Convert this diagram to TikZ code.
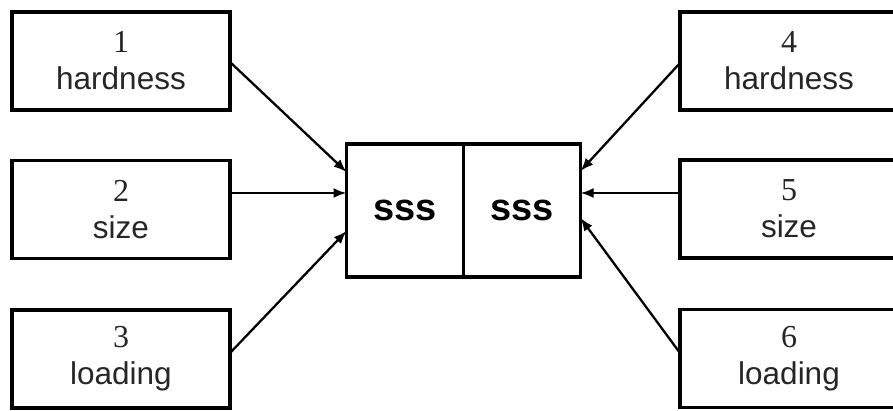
\documentclass[tikz,border=0pt]{standalone}
\usepackage{fontspec}
\setmainfont{Liberation Serif}
\newfontfamily\arialfont{Liberation Sans}
\usetikzlibrary{arrows.meta}

\tikzset{
  factor/.style={draw, line width=3.6pt, minimum width=218pt, minimum height=98pt,
    inner sep=0pt, outer sep=0pt, align=center, text=black!85,
    font=\fontsize{32}{37}\selectfont},
  half/.style={draw, line width=3.4pt, minimum width=117pt, minimum height=133pt,
    inner sep=0pt, outer sep=0pt, font=\arialfont\bfseries\fontsize{38}{40}\selectfont},
  feed/.style={line width=2.3pt, -{Latex[length=13pt,width=10pt]}},
}
\newcommand{\wordtxt}[1]{{\arialfont\fontsize{31.5}{37}\selectfont #1}}

\begin{document}
\begin{tikzpicture}[x=1pt,y=-1pt]
  \useasboundingbox (0,0) rectangle (893,410);
  \clip (0,0) rectangle (893,410);
  \fill[white] (0,0) rectangle (893,410);

  % input boxes, left column
  \node[factor] (b1) at (121,61)  {1\\\wordtxt{hardness}};
  \node[factor] (b2) at (121,209.5) {2\\\wordtxt{size}};
  \node[factor] (b3) at (121,359) {3\\\wordtxt{loading}};

  % input boxes, right column
  \node[factor] (b4) at (789,61)  {4\\\wordtxt{hardness}};
  \node[factor] (b5) at (789,209) {5\\\wordtxt{size}};
  \node[factor] (b6) at (789,358.5) {6\\\wordtxt{loading}};

  % central two-part block
  \node[half] (c1) at (405,210.5) {sss};
  \node[half] (c2) at (522,210.5) {sss};

  % feeds into the central block
  \draw[feed] ([yshift=-1pt]b1.east)  -- ([yshift=38.5pt]c1.west);
  \draw[feed] ([yshift=16.5pt]b2.east) -- ([yshift=17.5pt]c1.west);
  \draw[feed] ([yshift=6pt]b3.east)  -- ([yshift=-20.5pt]c1.west);

  \draw[feed] ([yshift=-2pt]b4.west)  -- ([yshift=39.5pt]c2.east);
  \draw[feed] ([yshift=16pt]b5.west) -- ([yshift=17.5pt]c2.east);
  \draw[feed] ([yshift=5.5pt]b6.west)  -- ([yshift=-7.5pt]c2.east);
\end{tikzpicture}
\end{document}
